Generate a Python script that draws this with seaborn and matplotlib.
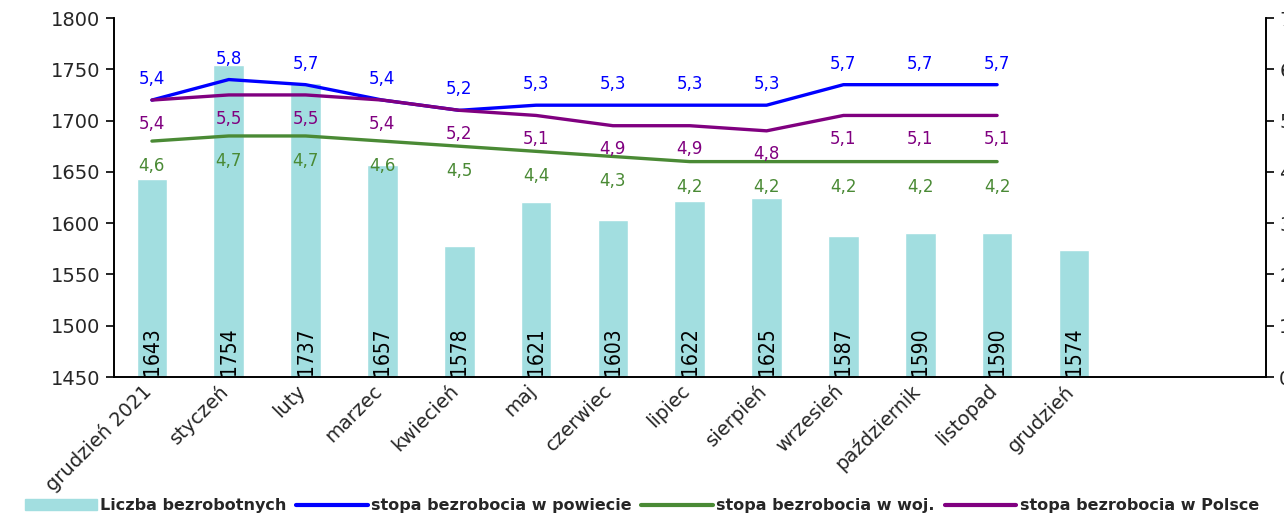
import numpy as np
import pandas as pd
import seaborn as sns
import matplotlib.pyplot as plt
import matplotlib.transforms as mtransforms
from matplotlib.patches import Patch
from matplotlib.lines import Line2D

## Data
months = ["grudzień 2021", "styczeń", "luty", "marzec", "kwiecień", "maj", "czerwiec",
          "lipiec", "sierpień", "wrzesień", "październik", "listopad", "grudzień"]
bezrobotni = [1643, 1754, 1737, 1657, 1578, 1621, 1603, 1622, 1625, 1587, 1590, 1590, 1574]
stopa_powiat = [5.4, 5.8, 5.7, 5.4, 5.2, 5.3, 5.3, 5.3, 5.3, 5.7, 5.7, 5.7]
stopa_woj = [4.6, 4.7, 4.7, 4.6, 4.5, 4.4, 4.3, 4.2, 4.2, 4.2, 4.2, 4.2]
stopa_polska = [5.4, 5.5, 5.5, 5.4, 5.2, 5.1, 4.9, 4.9, 4.8, 5.1, 5.1, 5.1]

bar_color = "#A2DEE0"
blue = "#0000FF"
green = "#4A8A35"
purple = "#800080"

sns.set_style("white")
plt.rcParams["font.family"] = ["DejaVu Sans"]

fig = plt.figure(figsize=(12.84, 5.25), dpi=100)
ax = fig.add_axes([0.0884, 0.2819, 0.986 - 0.0884, 0.9657 - 0.2819])

bars = pd.DataFrame({"miesiac": months, "liczba": bezrobotni})
sns.barplot(data=bars, x="miesiac", y="liczba", color=bar_color, width=0.4,
            saturation=1, ax=ax)
ax.set_ylim(1450, 1800)
ax.set_xlim(-0.5, 14.5)
ax.set_yticks(range(1450, 1801, 50))
ax.set_xlabel("")
ax.set_ylabel("")

# bar values inside bars
for i, v in enumerate(bezrobotni):
    ax.text(i, 1452, str(v), rotation=90, ha="center", va="bottom", fontsize=15,
            family="DejaVu Sans", fontstretch="condensed", color="black")

# x ticks at slot edges, labels centered on bars
ax.set_xticks(np.arange(-0.5, 15, 1))
ax.set_xticklabels([])
ax.set_xticks(range(len(months)), minor=True)
ax.set_xticklabels(months, minor=True, rotation=45, ha="right", rotation_mode="anchor",
                   fontsize=14)
ax.tick_params(axis="x", which="minor", length=0, pad=3)
ax.tick_params(axis="x", which="major", length=6, width=1.2, direction="out", color="black")
ax.tick_params(axis="y", length=6, width=1.2, direction="out", color="black", labelsize=14)
shift = mtransforms.ScaledTranslation(-10 / 100, 0, fig.dpi_scale_trans)
for lab in ax.get_xticklabels(minor=True):
    lab.set_transform(lab.get_transform() + shift)

ax2 = ax.twinx()
idx = list(range(len(stopa_powiat)))
lines = pd.DataFrame({"x": idx, "powiat": stopa_powiat, "woj": stopa_woj, "polska": stopa_polska})
sns.lineplot(data=lines, x="x", y="powiat", color=blue, linewidth=2.4, ax=ax2)
sns.lineplot(data=lines, x="x", y="woj", color=green, linewidth=2.4, ax=ax2)
sns.lineplot(data=lines, x="x", y="polska", color=purple, linewidth=2.4, ax=ax2)
ax2.set_ylim(0, 7)
ax2.set_yticks(range(0, 8))
ax2.set_xlim(-0.5, 14.5)
ax2.set_ylabel("")
ax2.tick_params(axis="y", length=6, width=1.2, direction="out", color="black", labelsize=14)

def fmt(v):
    return f"{v:.1f}".replace(".", ",")

for i in idx:
    ax2.annotate(fmt(stopa_powiat[i]), (i, stopa_powiat[i]), xytext=(0, 15),
                 textcoords="offset points", ha="center", va="center", color=blue, fontsize=12)
    ax2.annotate(fmt(stopa_polska[i]), (i, stopa_polska[i]), xytext=(0, -17),
                 textcoords="offset points", ha="center", va="center", color=purple, fontsize=12)
    ax2.annotate(fmt(stopa_woj[i]), (i, stopa_woj[i]), xytext=(0, -18),
                 textcoords="offset points", ha="center", va="center", color=green, fontsize=12)

for a in (ax, ax2):
    a.spines["top"].set_visible(False)
    for s in ("left", "right", "bottom"):
        a.spines[s].set_color("black")
        a.spines[s].set_linewidth(1.2)

handles = [Patch(color=bar_color),
           Line2D([], [], color=blue, linewidth=3),
           Line2D([], [], color=green, linewidth=3),
           Line2D([], [], color=purple, linewidth=3)]
labels = ["Liczba bezrobotnych", "stopa bezrobocia w powiecie",
          "stopa bezrobocia w woj.", "stopa bezrobocia w Polsce"]
fig.legend(handles, labels, loc="lower center", bbox_to_anchor=(0.5, -0.005), ncol=4,
           frameon=False, prop={"size": 11.5, "weight": "bold"}, handlelength=4.5,
           handletextpad=0.2, columnspacing=0.6)

fig.savefig("out.png", dpi=100)
